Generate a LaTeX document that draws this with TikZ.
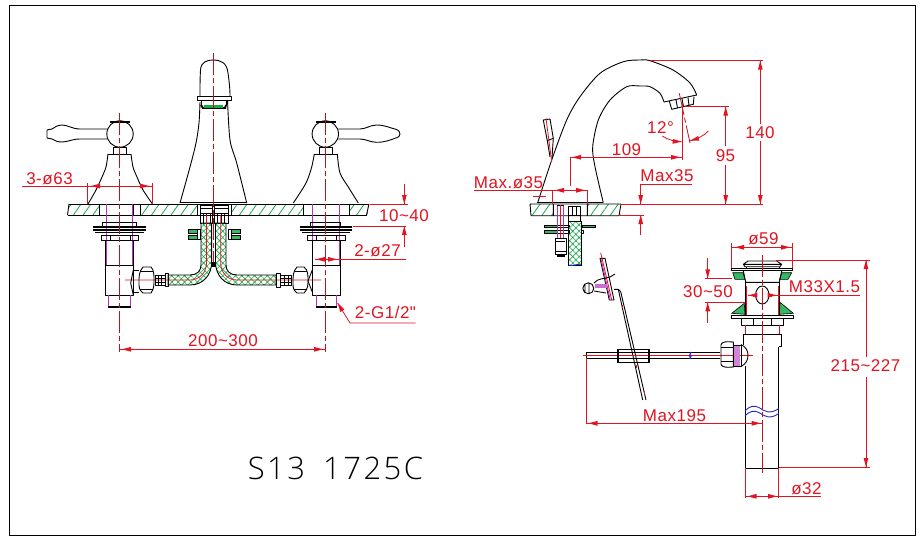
\documentclass[tikz,border=0pt]{standalone}
\usepackage{fontspec}
\setmainfont{Liberation Sans}
\newfontfamily\dimfont[LetterSpace=3]{Liberation Sans}
\newfontfamily\titlefont[LetterSpace=8,UprightFont=* Light]{Open Sans}
\usetikzlibrary{patterns.meta}
\definecolor{cadred}{RGB}{226,20,34}
\definecolor{cadgreen}{RGB}{20,170,70}
\definecolor{cadmag}{RGB}{180,50,190}
\definecolor{cadblue}{RGB}{40,40,200}
\tikzset{
  bk/.style={draw=black,line width=.9pt,line join=round},
  thick bk/.style={draw=black,line width=1.9pt},
  dim/.style={draw=cadred,line width=.8pt},
  ctr/.style={draw=cadred!85!black,line width=.8pt,dash pattern=on 22pt off 3pt on 5pt off 3pt},
  mag/.style={draw=cadmag,line width=.9pt},
  blu/.style={draw=cadblue,line width=.9pt},
  lbl/.style={text=cadred,inner sep=0pt,font=\dimfont\fontsize{17}{17}\selectfont},
  deck/.style={pattern={Lines[angle=55,distance=8pt,line width=.8pt]},pattern color=cadgreen},
  hose/.style={draw=black,line width=.9pt,pattern={Hatch[angle=45,distance=4.5pt,line width=.6pt]},pattern color=cadgreen},
  solidg/.style={fill=cadgreen!85!white,draw=black,line width=.6pt},
  nosep/.style={inner sep=0pt,outer sep=0pt}
}
\newcommand\hd[3]{\fill[cadred,shift={(#1,#2)},rotate=#3] (0,0)--(-9,2.4)--(-9,-2.4)--cycle;}
\begin{document}
\begin{tikzpicture}[x=1pt,y=-1pt]
\useasboundingbox (0,0) rectangle (924,543);
\fill[white] (0,0) rectangle (924,543);
\draw[black,line width=1pt] (9,6) rectangle (915.5,535);

% ===== FRONT VIEW: deck =====
\path[deck] (68,204) rectangle (99,215) (140,204) rectangle (197,215) (231,204) rectangle (303,215) (349,204) rectangle (368,215);
\draw[bk] (69,204)--(369,204) (67.5,215)--(366.5,215);
\draw[bk] (69,204)--(67.5,215) (369,204)--(366.5,215);
\draw[bk] (99,204)--(99,215) (140,204)--(140,215) (197,204)--(197,215) (231,204)--(231,215) (303,204)--(303,215) (349,204)--(349,215);
\draw[bk] (133,204)--(133,215) (312,204)--(312,215);

% ===== left valve =====
\draw[bk] (107,129)--(80,129) .. controls (72,129) and (68,125) .. (62,125) .. controls (57,125) and (54,128) .. (52,129)
  -- (47,130)--(47,138)--(52,139) .. controls (55,141) and (58,142) .. (62,142) .. controls (68,142) and (72,139) .. (80,139)--(107,139);
\draw[bk] (120,134) circle (13.2);
\draw[bk,line width=1.4pt] (110,122)--(130,122);
\draw[bk] (113,147) rectangle (126,154);
\draw[bk] (108,154)--(131,154);
\draw[bk] plot[smooth] coordinates {(108,154)(106,167)(102,177)(96,190)(88,204)};
\draw[bk] plot[smooth] coordinates {(131,154)(133,167)(137,177)(143,190)(152.5,204)};
% ===== right valve =====
\draw[bk] (338.3,129)--(360,129) .. controls (366,129) and (370,125) .. (376.7,125) .. controls (385,125) and (390,128) .. (395,129)
  .. controls (399,130) and (400,132) .. (400,134) .. controls (400,136) and (399,137) .. (395,138.3)
  .. controls (390,140) and (385,142.3) .. (376.7,142.3) .. controls (370,142.3) and (366,139) .. (360,139)--(338.3,139);
\draw[bk] (325.3,134) circle (13.2);
\draw[bk,line width=1.4pt] (316,122)--(336,122);
\draw[bk] (319.3,147) rectangle (332.3,154);
\draw[bk] (314.3,154)--(337.3,154);
\draw[bk] plot[smooth] coordinates {(314.3,154)(311.7,167)(306,183)(293.3,203)};
\draw[bk] plot[smooth] coordinates {(337.3,154)(340,173)(348.3,187)(358.3,203)};

% ===== spout =====
\draw[bk] (200,96) .. controls (200,85) and (200,78) .. (200.5,70) .. controls (201,62) and (207,60) .. (213,60)
  .. controls (221,60) and (227,63) .. (228,73) .. controls (229,80) and (230,88) .. (230,96);
\draw[bk] (197,100)--(197,96)--(231,96)--(231,100)--(197,100);
\draw[bk] (201,100)--(201,106);
\draw[bk] (226,100)--(226,106);
\draw[thick bk] (201,105)--(203,108)--(225,108)--(226,105);
\fill[cadgreen] (204,105) rectangle (223,108);
\draw[bk] plot[smooth] coordinates {(200,102)(199,123)(196,143)(190,167)(180,203)};
\draw[bk] plot[smooth] coordinates {(227.5,100)(230,140)(236.7,163)(246.7,203)};
\draw[bk] (180,202.5)--(247,202.5);

% ===== centre fittings =====
\draw[bk] (200,205) rectangle (212.7,223) (214,205) rectangle (228,223);
\draw[bk] (200,208)--(212.7,208) (200,213)--(212.7,213) (214,208)--(228,208) (214,213)--(228,213);
\draw[bk] (203,213)--(203,223) (206.5,213)--(206.5,223) (210,213)--(210,223) (217.5,213)--(217.5,223) (221,213)--(221,223) (224.5,213)--(224.5,223);
\draw[solidg] (188,229) rectangle (197,233) (188,235) rectangle (197,239.3) (231,229) rectangle (240,233) (231,235) rectangle (240,239.3);
\draw[bk] (197,229) rectangle (200,239.3) (228,229) rectangle (231,239.3);
\draw[hose] (168,285)--(190,285) .. controls (203,285) and (211.7,275) .. (211.7,262)--(211.7,223)--(201,223)--(201,265)
  .. controls (201,271) and (197,275) .. (190,275)--(168,275)--cycle;
\draw[hose] (276,285)--(237,285) .. controls (224,285) and (215.5,275) .. (215.5,262)--(215.5,223)--(226,223)--(226,265)
  .. controls (226,271) and (230,275) .. (237,275)--(276,275)--cycle;
\draw[dim] (206.5,215)--(206.5,263) .. controls (206.5,273) and (199,280) .. (190,280)--(125,280);
\draw[dim] (220.7,215)--(220.7,263) .. controls (220.7,273) and (228,280) .. (237,280)--(321,280);
\draw[bk] (211.7,223)--(211.7,262) (215.5,223)--(215.5,262);
\fill[black] (211.7,262) rectangle (215.5,267);

% ===== left stem =====
\draw[mag] (106.5,204)--(106.5,265) (132.7,204)--(132.7,265);
\draw[bk] (102.7,222)--(136.7,222) (102.7,222)--(102.7,226) (136.7,222)--(136.7,226);
\draw[thick bk] (93.3,226.7)--(146,226.7) (93.3,229.8)--(146,229.8) (95,232.5)--(144,232.5);
\draw[bk] (101.7,235) rectangle (138.7,240) (110,235)--(110,240) (130,235)--(130,240);
\draw[bk] (105.3,240)--(105.3,295)--(133.3,295)--(133.3,240) (105.3,265)--(133.3,265);
\draw[bk] (108,295)--(108,306.7) (130.7,295)--(130.7,306.7);
\draw[mag] (108,295)--(108,306) (130.7,295)--(130.7,306);
\draw[thick bk] (108,306.7)--(130.7,306.7);
% left nut
\draw[bk] (133.3,270)--(130.7,283)--(133.3,295);
\draw[bk] (139,283) .. controls (139,275) and (139,272) .. (143,267)--(151,267) .. controls (154,270) and (154,275) .. (154,280)
   .. controls (154,285) and (154,289) .. (151,293)--(143,293) .. controls (139,290) and (139,287) .. (139,283);
\draw[bk] (140,271)--(153,271) (140,289)--(153,289) (133.3,270)--(139,270) (133.3,292)--(139,292);
\draw[bk] (155,275) rectangle (165,285) (158,275)--(158,285) (161,275)--(161,285) (155,278)--(165,278) (155,282)--(165,282);
\draw[bk] (165,273.3) rectangle (168.3,286.7);
% ===== right stem =====
\draw[mag] (312.7,204)--(312.7,265) (339,204)--(339,265);
\draw[bk] (310,222)--(340,222) (310,222)--(310,226) (340,222)--(340,226);
\draw[thick bk] (300,226.7)--(351.7,226.7) (300,229.8)--(351.7,229.8) (302,232.5)--(350,232.5);
\draw[bk] (307,235) rectangle (345,240) (316,235)--(316,240) (336,235)--(336,240);
\draw[bk] (312.3,240)--(312.3,295)--(340,295)--(340,240) (312.3,265)--(340,265);
\draw[mag] (316,295)--(316,306) (336.7,295)--(336.7,306);
\draw[thick bk] (316,306.7)--(336.7,306.7);
\draw[bk] (312.3,270)--(308,281)--(312.3,292);
\draw[bk] (293,283) .. controls (293,275) and (293,272) .. (297,267)--(304,267) .. controls (308,270) and (308,275) .. (308,280)
   .. controls (308,285) and (308,289) .. (304,293)--(297,293) .. controls (293,290) and (293,287) .. (293,283);
\draw[bk] (294,271)--(307,271) (294,289)--(307,289);
\draw[bk] (280.7,275) rectangle (291.7,285) (284,275)--(284,285) (288,275)--(288,285) (280.7,278)--(291.7,278) (280.7,282)--(291.7,282);
\draw[bk] (276,273.3) rectangle (280.7,287);

% centre lines front
\draw[ctr] (119.5,113)--(119.5,352);
\draw[ctr] (213.3,53)--(213.3,262);
\draw[ctr] (325.5,113)--(325.5,352);

% ===== FRONT dims =====
\draw[dim] (22,186)--(152.7,186) (87.7,183)--(87.7,204) (152.7,183)--(152.7,204);
\hd{91}{186}{180} \hd{149}{186}{0}
\node[lbl] (d63) at (49.5,179) {3-ø63};
\draw[dim] (370,204)--(408,204) (404.3,184.3)--(404.3,204);
\hd{404.3}{204}{-90}
\draw[dim] (353,226)--(406,226) (404.3,226)--(404.3,247);
\hd{404.3}{226}{90}
\node[lbl] (d1040) at (404,215.5) {10\textasciitilde 40};
\draw[dim] (315,259.3)--(405.7,259.3);
\hd{316}{259.3}{180} \hd{337}{259.3}{0}
\node[lbl] (d27) at (377.5,251) {2-ø27};
\draw[dim] (337.7,303)--(350,323)--(415.7,323);
\hd{337.7}{303}{121}
\node[lbl] (dg12) at (385.5,312.5) {2-G1/2"};
\draw[dim] (119.5,349.3)--(325.5,349.3);
\hd{122}{349.3}{180} \hd{323}{349.3}{0}
\node[lbl] (d200) at (223,341) {200\textasciitilde 300};

% ===== SIDE VIEW =====
\path[deck] (530,204) rectangle (553,215.7) (587.3,204) rectangle (620.5,215.7);
\draw[bk] (530,204)--(621,204) (531,215.7)--(619,215.7) (530,204)--(531,215.7) (621,204)--(619,215.7)
  (553.3,204)--(553.3,215.7) (587.3,204)--(587.3,215.7);
\draw[bk] (536.7,202.7)--(603.3,202.7);
\draw[bk] plot[smooth] coordinates {(537.7,202.7)(551.7,160)(566.7,120)(580,96.7)(600,73.3)(623.3,61.7)(640,60)(650,60.7)(673,70)(690,83)(696.7,95)};
\draw[bk] plot[smooth] coordinates {(603.3,202.7)(595,166.7)(592.7,146.7)(598.3,120)(610,100)(626.7,86.7)(640,86)(650,86.7)(660,93.3)(664,102)};
\draw[bk] (664,102)--(696.7,95);
\draw[bk] (669.3,101)--(671.7,109.3)--(693.3,104.3)--(694,96.7);
\draw[bk] (676,100)--(677.5,108) (682,98.5)--(683.5,106.8) (688,97.5)--(689,105.5);
% side handle
\draw[bk] (543.3,120)--(550,119)--(553.3,138.3)--(547.3,140.7)--cycle;
\draw[bk] (547.3,140.7)--(550,157) (553.3,138.3)--(552,158);
\draw[dim] (546,118.3)--(551.7,161.7);
% side under-deck
\draw[solidg] (544,225) rectangle (557,227.7) (544,230.7) rectangle (557,233.3) (582,225) rectangle (595,227.7);
\draw[bk] (557,225) rectangle (569,227.7) (557,230.7) rectangle (569,233.3) (581,230.7) rectangle (583,233.3);
\draw[bk] (557,205) rectangle (563.3,238);
\draw[mag] (557,206)--(557,238) (563.3,206)--(563.3,238);
\draw[dim] (560.2,205)--(560.2,238);
\draw[bk] (555,238) rectangle (566,254);
\draw[bk] (556,241)--(565,241) (555,251)--(566,251);
\fill[black] (556.5,254) rectangle (565,257);
\draw[hose] (568.7,221) rectangle (581,265);
\draw[bk] (568.7,206) rectangle (580,221) (568.7,215.7)--(580,215.7) (572.5,206)--(572.5,215.7) (576.5,206)--(576.5,215.7);
\draw[blu] (568.7,265) .. controls (572,267) and (577,263) .. (581,265);

% side dims
\draw[ctr] (679.3,93.3)--(690,143);
\draw[dim] (682.3,104.3)--(682.3,160);
\draw[dim] (662.3,136) .. controls (668,140) and (675,141.5) .. (681.7,141.7);
\hd{681.7}{141.7}{-2}
\draw[dim] (690,140.7) .. controls (697,139) and (704,136) .. (708.3,131);
\hd{690}{140.7}{195}
\node[lbl] (d12) at (660.5,127.5) {12°};
\draw[dim] (570,157.3)--(682.3,157.3) (570,157.3)--(570,186);
\hd{572}{157.3}{180} \hd{680}{157.3}{0}
\node[lbl] (d109) at (626.5,149.5) {109};
\draw[dim] (474,190.3)--(587.7,190.3) (552.3,190.3)--(552.3,204) (587.7,190.3)--(587.7,204) (532.7,196.7)--(546,196.7);
\hd{555}{190.3}{180} \hd{585}{190.3}{0}
\node[lbl] (dm35) at (508.5,183) {Max.ø35};
\draw[dim] (650,60.7)--(763.3,60.7) (760.3,60.7)--(760.3,124) (760.3,141)--(760.3,204) (620,204)--(763.3,204);
\hd{760.3}{60.7}{90} \hd{760.3}{204}{-90}
\node[lbl] (d140) at (760,132.5) {140};
\draw[dim] (685,106.7)--(729.3,106.7) (725.7,106.7)--(725.7,146) (725.7,165)--(725.7,204);
\hd{725.7}{106.7}{90} \hd{725.7}{204}{-90}
\node[lbl] (d95) at (725.5,156) {95};
\draw[dim] (691.7,184.3)--(640.7,184.3)--(640.7,204);
\hd{640.7}{204}{-90}
\node[lbl] (dm35b) at (667,176) {Max35};
\draw[dim] (620,215)--(644.3,215) (640.7,215)--(640.7,235);
\hd{640.7}{215}{90}

% ===== lift rod =====
\draw[bk] (600,258.3)--(605,258.3)--(614,300)--(609.3,300)--cycle;
\draw[mag] (601,259)--(610,299);
\draw[dim] (600.7,252.7)--(611.7,300);
\draw[bk] (588.3,288.3) circle (5.5) (585,284)--(585,293) (589,283)--(589,294);
\fill[cadmag!70!white] (595,284) rectangle (607,288);
\draw[bk] (594,283) .. controls (598,278) and (604,279) .. (610,277)--(615,274);
\draw[bk] (594,291)--(606,293);
\draw[bk] (614,289.3)--(618.3,289.3)--(620.7,291.7);
\draw[bk] (618.3,289.3)--(642.7,400) (620.7,291.7)--(646,400);
\draw[dim] (622,305)--(622,308) (636,365)--(636,368) (644,391)--(644,394);
% ===== horizontal rod =====
\draw[bk] (586,352.3)--(720,352.3) (586,358.3)--(720,358.3) (586,352.3)--(586,358.3);
\draw[dim] (583,355.3)--(752.7,355.3);
\draw[line width=1.6pt,black] (617.7,349.3) rectangle (648.7,362.3);
\draw[blu,line width=1.2pt] (691,352)--(689.5,356)--(691,356)--(689.5,359);
\draw[bk] (721,345) .. controls (721,343) and (724,341.7) .. (728,341.7)--(733.3,342)--(733.3,367)--(728,367.3) .. controls (724,367.3) and (721,366) .. (721,364)--cycle;
\draw[bk] (721,347.7)--(733.3,347.7) (721,361.7)--(733.3,361.7);
\path[fill=cadmag!60!white] (733.3,345) rectangle (740,366);
\draw[bk] (733.3,345) rectangle (741,366);
\draw[bk] (741,344.5) .. controls (746,347) and (748,351) .. (748,355) .. controls (748,360) and (746,364) .. (741,366.5);

% ===== drain =====
\draw[bk] (748,261)--(776.7,261)--(781.7,264.3)--(780,266.7)--(745,266.7)--(743.3,264.3)--cycle (743.3,264.3)--(781.7,264.3);
\draw[bk] (731.7,268.3) rectangle (792.7,270.7);
\draw[bk] (746,267)--(746,268.3) (779,267)--(779,268.3);
\draw[solidg] (732.7,272.7)--(743,272.7)--(745,279.3)--(735,279.3)--cycle;
\draw[solidg] (782,272.7)--(791.7,272.7)--(788,279.3)--(779.5,279.3)--cycle;
\draw[bk] (743.3,270.7)--(745.7,282.3) (781.7,270.7)--(779.3,282.3) (745.7,282.3)--(779.3,282.3);
\draw[bk] (745.7,282.3)--(745.7,315) (779.3,282.3)--(779.3,315);
\draw[dim] (746.5,286)--(746.5,315) (778.5,286)--(778.5,315);
\draw[bk] (762.3,295) ellipse (6.7 and 9);
\draw[solidg] (744.3,303.3)--(731.7,313.3)--(745,314.3)--cycle;
\draw[solidg] (780,302.3)--(793.3,313.3)--(779.5,314.3)--cycle;
\draw[bk] (731.7,315) rectangle (793.3,318.3);
\draw[bk] (741,318.3) rectangle (783.3,325) (753,318.3)--(753,325) (771.7,318.3)--(771.7,325);
\draw[dim] (745.7,325)--(745.7,334) (779,325)--(779,334);
\draw[bk] (743.3,334.3)--(781.7,334.3) (743.3,334.3)--(743.3,345) (781.7,334.3)--(781.7,346.5)--(779,346.5);
\draw[bk] (745.7,366)--(745.7,468.3)--(778.3,468.3)--(778.3,346.5);
\draw[blu] (745,410.7) .. controls (750,406) and (754,405) .. (759,407.5) .. controls (764,411) and (770,415) .. (779,408.3);
\draw[blu] (745,415.7) .. controls (750,411) and (754,410) .. (759,412.5) .. controls (764,416) and (770,420) .. (779,413.3);
\draw[ctr] (762.3,255)--(762.3,473);

% ===== drain dims =====
\draw[dim] (731.7,243.3)--(731.7,268) (792.7,243.3)--(792.7,268) (731.7,247.3)--(792.7,247.3);
\hd{735}{247.3}{180} \hd{790}{247.3}{0}
\node[lbl] (d59) at (763.5,238.5) {ø59};
\draw[dim] (707.7,258.3)--(707.7,278.3) (705,278.3)--(732,278.3);
\hd{707.7}{278.3}{-90}
\draw[dim] (705,302.3)--(745,302.3) (707.7,302.3)--(707.7,323.3);
\hd{707.7}{302.3}{90}
\node[lbl] (d3050) at (708,291.5) {30\textasciitilde 50};
\draw[dim] (748.3,295.3)--(755,295.3) (770,295.3)--(860,295.3);
\hd{748.3}{295.3}{180} \hd{776.7}{295.3}{0}
\node[lbl] (dm33) at (824.5,286.5) {M33X1.5};
\draw[dim] (776,260)--(870,260) (866,260)--(866,357) (866,377)--(866,467) (779,467)--(870,467);
\hd{866}{260}{90} \hd{866}{467}{-90}
\node[lbl] (d215) at (865.5,366) {215\textasciitilde 227};
\draw[dim] (586.3,358)--(586.3,424) (586.3,423.3)--(762.3,423.3);
\hd{588.5}{423.3}{180} \hd{760.7}{423.3}{0}
\node[lbl] (d195) at (674.5,415.5) {Max195};
\draw[dim] (745.7,468)--(745.7,498.3) (778.3,468)--(778.3,498.3) (745.7,496.3)--(821,496.3);
\hd{747.5}{496.3}{180} \hd{777}{496.3}{0}
\node[lbl] (d32) at (806.5,488.5) {ø32};

% title
\node[nosep,text=black,font=\titlefont\fontsize{31}{31}\selectfont] (title) at (335.5,468) {S13\hspace{18pt}1725C};
\end{tikzpicture}
\end{document}
